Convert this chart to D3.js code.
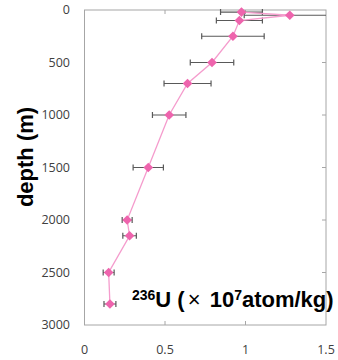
<!DOCTYPE html>
<html>
<head>
<meta charset="utf-8">
<script src="https://cdn.jsdelivr.net/npm/d3@7"></script>
<style>
  body { margin: 0; background: #fff; }
</style>
</head>
<body>
<div class="svgcontainer"></div>
<script>
// 236U profile, values
const depths = [20, 50, 100, 250, 500, 700, 1000, 1500, 2000, 2150, 2500, 2800];
const u236 = [0.975, 1.275, 0.962, 0.922, 0.792, 0.64, 0.526, 0.396, 0.265, 0.28, 0.15, 0.158];
const errs = [0.13, 0.283, 0.143, 0.194, 0.135, 0.146, 0.104, 0.094, 0.031, 0.042, 0.034, 0.037];
const xTicks = [0, 0.5, 1, 1.5];
const yTicks = [0, 500, 1000, 1500, 2000, 2500, 3000];

const width = 338, height = 360;
const mLeft = 84.5, mRight = 326, mTop = 10, mBottom = 325;

const svg = d3.select(".svgcontainer")
  .append("svg")
  .attr("width", width)
  .attr("height", height)
  .style("font-family", "'Open Sans', sans-serif");

const x = d3.scaleLinear().domain([0, 1.5]).range([mLeft, mRight]);
const y = d3.scaleLinear().domain([0, 3000]).range([mTop, mBottom]);

let data = depths.map((d, i) => ({depth: d, value: u236[i], err: errs[i]}));

// frame
svg.append("rect")
  .attr("x", mLeft).attr("y", mTop)
  .attr("width", mRight - mLeft).attr("height", mBottom - mTop)
  .attr("fill", "none")
  .attr("stroke", "#a6a6a6")
  .attr("stroke-width", 1);

// small inner ticks on top / bottom / right
xTicks.slice(1, -1).forEach(t => {
  svg.append("line").attr("x1", x(t)).attr("x2", x(t)).attr("y1", mTop).attr("y2", mTop + 4)
    .attr("stroke", "#a6a6a6");
  svg.append("line").attr("x1", x(t)).attr("x2", x(t)).attr("y1", mBottom).attr("y2", mBottom - 4)
    .attr("stroke", "#a6a6a6");
});
yTicks.slice(1, -1).forEach(t => {
  svg.append("line").attr("x1", mRight).attr("x2", mRight - 4).attr("y1", y(t)).attr("y2", y(t))
    .attr("stroke", "#a6a6a6");
});

// tick labels
svg.selectAll(".ylab").data(yTicks).enter()
  .append("text")
  .attr("x", 70)
  .attr("y", d => y(d))
  .attr("dy", "0.35em")
  .attr("text-anchor", "end")
  .attr("font-size", 12.5)
  .attr("fill", "#404040")
  .text(d => d);

svg.selectAll(".xlab").data(xTicks).enter()
  .append("text")
  .attr("x", d => x(d))
  .attr("y", 350)
  .attr("dy", "0.35em")
  .attr("text-anchor", "middle")
  .attr("font-size", 12.5)
  .attr("fill", "#404040")
  .text(d => d);

// clip for error bars running past the frame
svg.append("clipPath").attr("id", "plotclip")
  .append("rect").attr("x", mLeft).attr("y", mTop - 10)
  .attr("width", mRight - mLeft).attr("height", mBottom - mTop + 20);

const eb = svg.append("g").attr("clip-path", "url(#plotclip)");
data.forEach(d => {
  const x0 = x(d.value - d.err), x1 = x(d.value + d.err), yy = y(d.depth);
  eb.append("line").attr("x1", x0).attr("x2", x1).attr("y1", yy).attr("y2", yy)
    .attr("stroke", "#595959").attr("stroke-width", 1.2);
  [x0, x1].forEach(xx => {
    eb.append("line").attr("x1", xx).attr("x2", xx).attr("y1", yy - 3).attr("y2", yy + 3)
      .attr("stroke", "#595959").attr("stroke-width", 1.2);
  });
});

// connecting line
let line = d3.line().x(d => x(d.value)).y(d => y(d.depth));
svg.append("path")
  .attr("d", line(data))
  .attr("fill", "none")
  .attr("stroke", "#f59ccd")
  .attr("stroke-width", 1.3);

// diamond markers
svg.selectAll(".pt").data(data).enter()
  .append("path")
  .attr("d", d3.symbol().type(d3.symbolDiamond2).size(60))
  .attr("transform", d => `translate(${x(d.value)},${y(d.depth)})`)
  .attr("fill", "#ee64ad");

// axis title
svg.append("text")
  .attr("transform", "translate(33,157) rotate(-90)")
  .attr("text-anchor", "middle")
  .attr("font-family", "'Liberation Sans', Arial, sans-serif")
  .attr("font-weight", "bold")
  .attr("font-size", 22)
  .attr("fill", "#000")
  .text("depth (m)");

// unit label
const lab = svg.append("text")
  .attr("x", 132)
  .attr("y", 307)
  .attr("font-family", "'Liberation Sans', Arial, sans-serif")
  .attr("font-weight", "bold")
  .attr("font-size", 22)
  .attr("fill", "#000");
lab.append("tspan").attr("font-size", 14).attr("dy", -7).text("236");
lab.append("tspan").attr("dy", 7).text("U (");
lab.append("tspan").attr("font-weight", "normal").attr("dx", 3).text("×");
lab.append("tspan").attr("dx", 3).text(" 10");
lab.append("tspan").attr("font-size", 14).attr("dy", -7).text("7");
lab.append("tspan").attr("dy", 7).text("atom/kg)");
</script>
</body>
</html>
